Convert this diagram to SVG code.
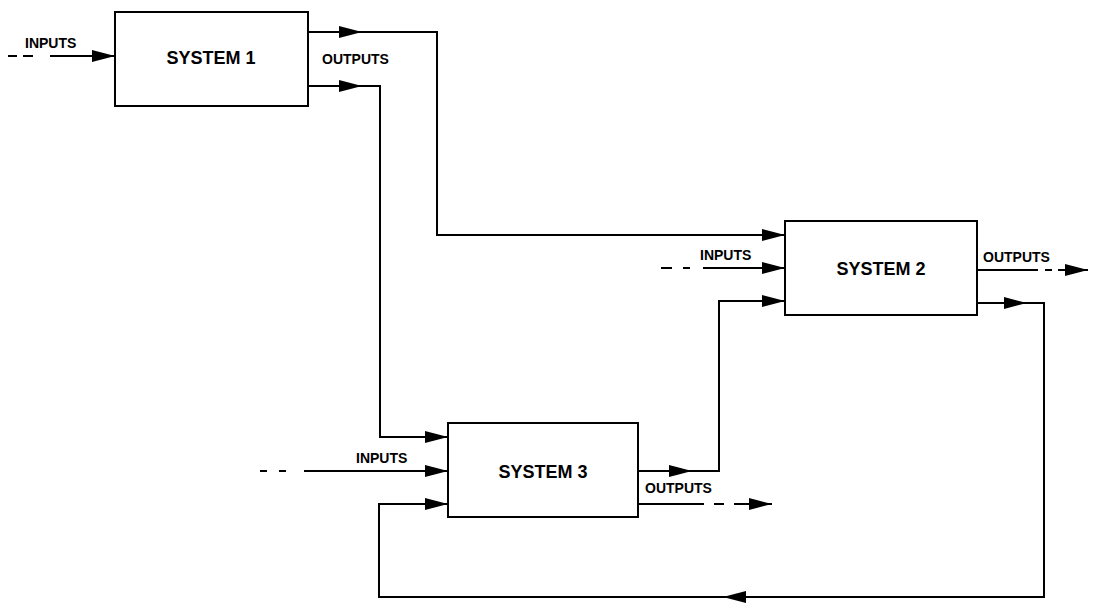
<svg xmlns="http://www.w3.org/2000/svg" width="1094" height="603" viewBox="0 0 1094 603">
<style>
.box{fill:#fff;stroke:#000;stroke-width:2}
.ln{fill:none;stroke:#000;stroke-width:2}
.ar{fill:none;stroke:#000;stroke-width:2;marker-end:url(#ah)}
.title{font-family:"Liberation Sans",Arial,sans-serif;font-weight:bold;font-size:18px;text-anchor:middle;fill:#000}
.lbl{font-family:"Liberation Sans",Arial,sans-serif;font-weight:bold;font-size:14px;fill:#000}
</style>
<defs>
<marker id="ah" viewBox="0 0 23 13" refX="23" refY="6.5" markerWidth="23" markerHeight="13" markerUnits="userSpaceOnUse" orient="auto">
<path d="M0,0.5 L23,6.5 L0,12.5 z" fill="#000"/>
</marker>
</defs>
<rect width="1094" height="603" fill="#fff"/>
<g id="connectors">
<path class="ln" d="M8,56 H17 M23,56 H33"/>
<path class="ar" d="M50,56 H115"/>
<path class="ar" d="M308,32 H362"/>
<path class="ar" d="M362,32 H437 V235 H785"/>
<path class="ar" d="M308,86 H362"/>
<path class="ar" d="M362,86 H380 V437 H448"/>
<path class="ln" d="M661,268 H672 M683,268 H690"/>
<path class="ar" d="M703,268 H785"/>
<path class="ln" d="M977,270 H1038 M1045,270 H1052"/>
<path class="ar" d="M1058,270 H1088"/>
<path class="ar" d="M977,303 H1027"/>
<path class="ar" d="M1027,303 H1044 V597 H723"/>
<path class="ar" d="M723,597 H379 V504 H448"/>
<path class="ln" d="M260,471 H267 M279,471 H286"/>
<path class="ar" d="M304,471 H448"/>
<path class="ar" d="M638,471 H692"/>
<path class="ar" d="M692,471 H719 V301 H785"/>
<path class="ln" d="M638,504 H704 M714,504 H724"/>
<path class="ar" d="M734,504 H772"/>
</g>
<g id="system1">
<rect class="box" x="115" y="12" width="193" height="94"/>
<text class="title" x="211" y="64">SYSTEM 1</text>
<text class="lbl" x="25" y="48">INPUTS</text>
<text class="lbl" x="322" y="64">OUTPUTS</text>
</g>
<g id="system2">
<rect class="box" x="785" y="221" width="192" height="94"/>
<text class="title" x="881" y="275">SYSTEM 2</text>
<text class="lbl" x="700" y="260">INPUTS</text>
<text class="lbl" x="983" y="262">OUTPUTS</text>
</g>
<g id="system3">
<rect class="box" x="448" y="423" width="190" height="94"/>
<text class="title" x="543" y="478">SYSTEM 3</text>
<text class="lbl" x="356" y="463">INPUTS</text>
<text class="lbl" x="645" y="493">OUTPUTS</text>
</g>
</svg>
